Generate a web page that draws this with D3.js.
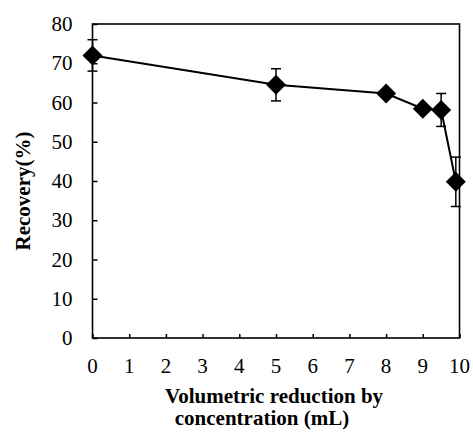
<!DOCTYPE html>
<html>
<head>
<meta charset="utf-8">
<script src="https://cdn.jsdelivr.net/npm/d3@7"></script>
<style>
  body { margin: 0; background: #fff; }
  svg { display: block; }
  .tick-label { font-size: 21px; }
  .title { font-size: 21px; font-weight: bold; }
</style>
</head>
<body>
<div id="chart"></div>
<script>
// values
const volume = [0, 5, 8, 9, 9.5, 9.9];
const recovery = [72, 64.5, 62.3, 58.4, 58.1, 39.8];
const errorBar = [4, 4.1, 0, 0, 4.2, 6.3];
const xTicks = [0, 1, 2, 3, 4, 5, 6, 7, 8, 9, 10];
const yTicks = [0, 10, 20, 30, 40, 50, 60, 70, 80];

const serif = "'Liberation Serif', 'DejaVu Serif', 'Times New Roman', Times, serif";

const width = 473;
const height = 432;
const margin = { top: 24, right: 13.5, bottom: 94, left: 92.5 };
const plotWidth = width - margin.left - margin.right;
const plotHeight = height - margin.top - margin.bottom;

const data = volume.map((v, i) => ({ x: v, y: recovery[i], err: errorBar[i] }));

const svg = d3
  .select('#chart')
  .append('svg')
  .attr('width', width)
  .attr('height', height)
  .attr('font-family', serif);

const g = svg.append('g').attr('transform', `translate(${margin.left}, ${margin.top})`);

const xScale = d3.scaleLinear().domain([0, 10]).range([0, plotWidth]);
const yScale = d3.scaleLinear().domain([0, 80]).range([plotHeight, 0]);

// frame
g.append('rect')
  .attr('width', plotWidth)
  .attr('height', plotHeight)
  .attr('fill', 'none')
  .attr('stroke', '#000')
  .attr('stroke-width', 1.6);

// inward ticks, labels drawn separately
const xAxis = d3.axisBottom(xScale).tickValues(xTicks).tickSizeInner(-4).tickSizeOuter(0).tickFormat('');
const yAxis = d3.axisLeft(yScale).tickValues(yTicks).tickSizeInner(-5).tickSizeOuter(0).tickFormat('');

g.append('g').attr('transform', `translate(0, ${plotHeight})`).call(xAxis)
  .call((a) => a.select('.domain').remove())
  .call((a) => a.selectAll('line').attr('stroke-width', 1.5));
g.append('g').call(yAxis)
  .call((a) => a.select('.domain').remove())
  .call((a) => a.selectAll('line').attr('stroke-width', 1.5));

g.selectAll('.x-label')
  .data(xTicks)
  .enter()
  .append('text')
  .attr('class', 'tick-label x-label')
  .attr('font-family', serif)
  .attr('x', (d) => xScale(d))
  .attr('y', plotHeight + 35)
  .attr('text-anchor', 'middle')
  .text((d) => d);

g.selectAll('.y-label')
  .data(yTicks)
  .enter()
  .append('text')
  .attr('class', 'tick-label y-label')
  .attr('font-family', serif)
  .attr('x', -20)
  .attr('y', (d) => yScale(d) + 7)
  .attr('text-anchor', 'end')
  .text((d) => d);

// axis titles
svg.append('text')
  .attr('class', 'title')
  .attr('font-family', serif)
  .attr('transform', 'translate(30, 191) rotate(-90)')
  .attr('text-anchor', 'middle')
  .text('Recovery(%)');

svg.append('text')
  .attr('class', 'title')
  .attr('font-family', serif)
  .attr('x', 274)
  .attr('y', 403)
  .attr('text-anchor', 'middle')
  .text('Volumetric reduction by');

svg.append('text')
  .attr('class', 'title')
  .attr('font-family', serif)
  .attr('x', 262)
  .attr('y', 425)
  .attr('text-anchor', 'middle')
  .text('concentration (mL)');

// error bars
const withErr = data.filter((d) => d.err > 0);
g.selectAll('.err')
  .data(withErr)
  .enter()
  .append('line')
  .attr('x1', (d) => xScale(d.x))
  .attr('x2', (d) => xScale(d.x))
  .attr('y1', (d) => yScale(d.y - d.err))
  .attr('y2', (d) => yScale(d.y + d.err))
  .attr('stroke', '#000')
  .attr('stroke-width', 1.5);

[-1, 1].forEach((s) => {
  g.selectAll(null)
    .data(withErr)
    .enter()
    .append('line')
    .attr('x1', (d) => xScale(d.x) - 5)
    .attr('x2', (d) => xScale(d.x) + 5)
    .attr('y1', (d) => yScale(d.y + s * d.err))
    .attr('y2', (d) => yScale(d.y + s * d.err))
    .attr('stroke', '#000')
    .attr('stroke-width', 1.5);
});

// line
const line = d3.line().x((d) => xScale(d.x)).y((d) => yScale(d.y));
g.append('path')
  .datum(data)
  .attr('fill', 'none')
  .attr('stroke', '#000')
  .attr('stroke-width', 2)
  .attr('d', line);

// diamond markers
g.selectAll('.marker')
  .data(data)
  .enter()
  .append('path')
  .attr('class', 'marker')
  .attr('d', d3.symbol(d3.symbolSquare, 200))
  .attr('transform', (d) => `translate(${xScale(d.x)}, ${yScale(d.y)}) rotate(45)`)
  .attr('fill', '#000');
</script>
</body>
</html>
